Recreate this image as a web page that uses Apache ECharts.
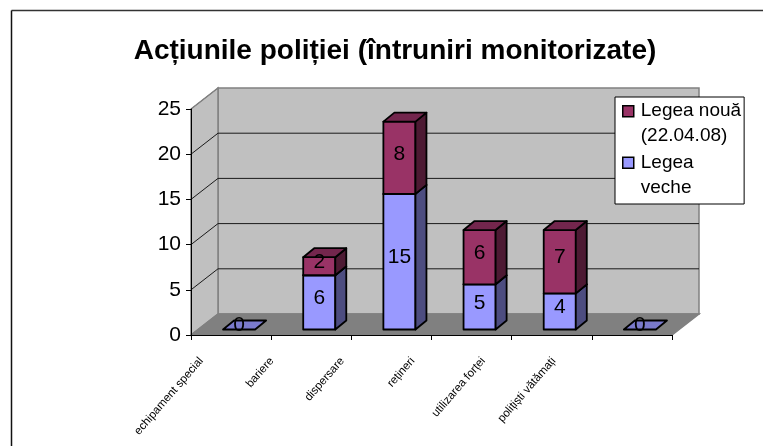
<!DOCTYPE html>
<html>
<head>
<meta charset="utf-8">
<style>
  html, body { margin: 0; padding: 0; background: #fff; }
  #chart { width: 763px; height: 446px; }
</style>
<script src="https://cdn.jsdelivr.net/npm/echarts@6/dist/echarts.min.js"></script>
</head>
<body>
<div id="chart"></div>
<script>
const categories = ['echipament special', 'bariere', 'dispersare', 'rețineri', 'utilizarea forței', 'polițiști vătămați'];
const legeaVeche = [0, 6, 15, 5, 4, 0];
const legeaNoua = [0, 2, 8, 6, 7, 0];
const yTicks = [5, 10, 15, 20, 25];
const nameVeche = 'Legea\nveche';
const nameNoua = 'Legea nouă\n(22.04.08)';

const FONT = '"Liberation Sans", Arial, sans-serif';
// box depth of the chart floor and of a single bar
const wallDx = 27, wallDy = 21;
const barDx = 11, barDy = 9;
const barShiftX = 8, barShiftY = 5.5;

function wallsItem(params, api) {
  const c = params.coordSys;
  const left = c.x, right = c.x + c.width, top = c.y, bottom = c.y + c.height;
  const poly = (points, fill) => ({
    type: 'polygon',
    shape: { points },
    style: { fill, stroke: '#808080', lineWidth: 1.5 }
  });
  const children = [
    poly([[left + wallDx, top - wallDy], [right + wallDx, top - wallDy], [right + wallDx, bottom - wallDy], [left + wallDx, bottom - wallDy]], '#c0c0c0'),
    poly([[left, top], [left + wallDx, top - wallDy], [left + wallDx, bottom - wallDy], [left, bottom]], '#c0c0c0'),
    poly([[left, bottom], [left + wallDx, bottom - wallDy], [right + wallDx, bottom - wallDy], [right, bottom]], '#808080')
  ];
  yTicks.forEach((v) => {
    const y = api.coord([0, v])[1];
    if (v < 25) {
      children.push({
        type: 'line',
        shape: { x1: left + wallDx, y1: y - wallDy, x2: right + wallDx, y2: y - wallDy },
        style: { stroke: '#1a1a1a', lineWidth: 1 }
      });
    }
    children.push({
      type: 'line',
      shape: { x1: left, y1: y, x2: left + wallDx, y2: y - wallDy },
      style: { stroke: v < 25 ? '#1a1a1a' : '#808080', lineWidth: 1 }
    });
  });
  return { type: 'group', children };
}

function barItem(base, front, top, side) {
  return function (params, api) {
    const idx = api.value(0);
    const val = api.value(1);
    const start = base ? base[idx] : 0;
    if (base && val === 0) return null;
    const width = api.size([1, 0])[0] * 0.4;
    const p0 = api.coord([idx, start]);
    const p1 = api.coord([idx, start + val]);
    const x0 = p0[0] - width / 2 + barShiftX;
    const x1 = x0 + width;
    const yb = p0[1] - barShiftY;
    const yt = p1[1] - barShiftY;
    const line = { stroke: '#000', lineWidth: 1.8, lineJoin: 'round' };
    const children = [];
    if (val > 0) {
      children.push({
        type: 'rect',
        shape: { x: x0, y: yt, width, height: yb - yt },
        style: Object.assign({ fill: front }, line)
      });
      children.push({
        type: 'polygon',
        shape: { points: [[x1, yt], [x1 + barDx, yt - barDy], [x1 + barDx, yb - barDy], [x1, yb]] },
        style: Object.assign({ fill: side }, line)
      });
    }
    children.push({
      type: 'polygon',
      shape: { points: [[x0, yt], [x0 + barDx, yt - barDy], [x1 + barDx, yt - barDy], [x1, yt]] },
      style: Object.assign({ fill: top }, line)
    });
    children.push({
      type: 'text',
      style: {
        text: String(val),
        x: x0 + width / 2,
        y: (yt + yb) / 2 - 4,
        align: 'center',
        verticalAlign: 'middle',
        fill: '#000',
        font: '21px ' + FONT
      }
    });
    return { type: 'group', children };
  };
}

const option = {
  animation: false,
  backgroundColor: '#fff',
  title: {
    text: 'Acțiunile poliției (întruniri monitorizate)',
    left: 390,
    top: 32,
    textAlign: 'center',
    textStyle: { fontFamily: FONT, fontSize: 28, fontWeight: 'bold', color: '#000' }
  },
  legend: {
    orient: 'vertical',
    left: 615,
    top: 97,
    padding: [1, 3, 3, 7],
    itemGap: 0,
    itemWidth: 11,
    itemHeight: 50,
    // square sits at the top of the tall item, next to the first text line
    icon: 'path://M0 0h0 M0 7h11v11h-11z M0 50h0',
    backgroundColor: '#fff',
    borderColor: '#000',
    borderWidth: 1,
    borderRadius: 0,
    z: 20,
    data: [nameNoua, nameVeche],
    textStyle: { fontFamily: FONT, fontSize: 19, lineHeight: 25, color: '#000', padding: [0, 0, 0, 2] },
    itemStyle: { borderColor: '#000', borderWidth: 1.5 }
  },
  grid: [
    { left: 191, top: 109, width: 481, height: 226 },
    // labels sit closer together than the ticks in the picture, so they get their own axis
    { left: 166, top: 109, width: 423, height: 226, show: false }
  ],
  xAxis: [
    {
      type: 'category',
      gridIndex: 0,
      data: categories,
      axisLabel: { show: true, formatter: () => '' },
      axisLine: { show: true, onZero: false, lineStyle: { color: '#000', width: 1 } },
      axisTick: { show: true, length: 5, lineStyle: { color: '#000', width: 1 } },
      z: 10
    },
    {
      type: 'category',
      gridIndex: 1,
      data: categories,
      axisLine: { show: false },
      axisTick: { show: false },
      axisLabel: {
        interval: 0,
        rotate: 49,
        margin: 24,
        fontFamily: FONT,
        fontSize: 11.5,
        color: '#000'
      }
    }
  ],
  yAxis: [
    {
      type: 'value',
      gridIndex: 0,
      min: 0,
      max: 25,
      interval: 5,
      axisLine: { show: true, onZero: false, lineStyle: { color: '#000', width: 1 } },
      axisTick: { show: true, length: 5, lineStyle: { color: '#000', width: 1 } },
      splitLine: { show: false },
      axisLabel: { margin: 10, fontFamily: FONT, fontSize: 21, color: '#000', padding: [0, 0, 5, 0] },
      z: 10
    },
    { type: 'value', gridIndex: 1, min: 0, max: 25, show: false }
  ],
  graphic: [
    // outer frame: only the top and left edges are visible
    { type: 'line', z: 30, shape: { x1: 11.5, y1: 10.5, x2: 763, y2: 10.5 }, style: { stroke: '#333', lineWidth: 1.5 } },
    { type: 'line', z: 30, shape: { x1: 11.5, y1: 10.5, x2: 11.5, y2: 446 }, style: { stroke: '#111', lineWidth: 1.5 } }
  ],
  series: [
    {
      name: 'walls',
      type: 'custom',
      xAxisIndex: 0,
      yAxisIndex: 0,
      z: 0,
      silent: true,
      data: [[0, 0]],
      renderItem: wallsItem
    },
    {
      name: nameVeche,
      type: 'custom',
      xAxisIndex: 0,
      yAxisIndex: 0,
      z: 3,
      itemStyle: { color: '#9999ff' },
      encode: { x: 0, y: 1 },
      data: legeaVeche.map((v, i) => [i, v]),
      renderItem: barItem(null, '#9999ff', '#7a7acc', '#4d4d80')
    },
    {
      name: nameNoua,
      type: 'custom',
      xAxisIndex: 0,
      yAxisIndex: 0,
      z: 4,
      itemStyle: { color: '#993366' },
      encode: { x: 0, y: 1 },
      data: legeaNoua.map((v, i) => [i, v]),
      renderItem: barItem(legeaVeche, '#993366', '#73264d', '#4d1a33')
    }
  ]
};

const chart = echarts.init(document.getElementById('chart'));
chart.setOption(option);
window.addEventListener('resize', function () {
  chart.resize();
});
</script>
</body>
</html>
